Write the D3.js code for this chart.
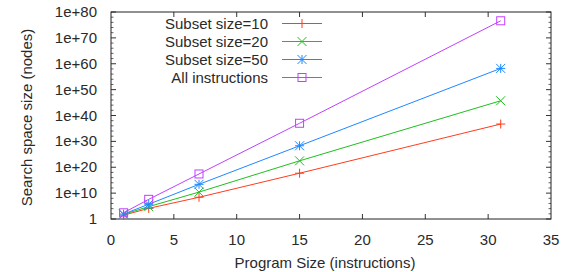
<!DOCTYPE html>
<html>
<head>
<meta charset="utf-8">
<script src="https://cdn.jsdelivr.net/npm/d3@7"></script>
<style>
  body { margin: 0; background: #fff; }
  text { font-family: "Liberation Sans", Arial, sans-serif; font-size: 15px; fill: #2a2a2a; }
</style>
</head>
<body>
<div id="chart"></div>
<script>
// program sizes (instructions)
var sizes = [1, 3, 7, 15, 31];
// search space size per series
var subset10 = [3e1, 1.3e4, 2.5e8, 5e17, 5e36];
var subset20 = [6e1, 6e4, 2.5e10, 3e22, 5e45];
var subset50 = [8e1, 5e5, 2.5e13, 2e28, 1.6e58];
var allInstr = [2.5e2, 4e7, 2.5e17, 1e37, 4e76];
var seriesNames = ["Subset size=10", "Subset size=20", "Subset size=50", "All instructions"];
var xTicks = [0, 5, 10, 15, 20, 25, 30, 35];
var yTicks = [1, 1e10, 1e20, 1e30, 1e40, 1e50, 1e60, 1e70, 1e80];
var yTickLabels = ["1", "1e+10", "1e+20", "1e+30", "1e+40", "1e+50", "1e+60", "1e+70", "1e+80"];

var colors = ["#ff3c1e", "#1ec01e", "#1e88ff", "#c040ff"];
var markers = ["plus", "cross", "star", "square"];
var allSeries = [subset10, subset20, subset50, allInstr];

var W = 563, H = 272;
var margin = { top: 12, right: 12, bottom: 53, left: 111 };
var width = W - margin.left - margin.right,
  height = H - margin.top - margin.bottom;

var svg = d3.select("#chart").append("svg")
  .attr("width", W).attr("height", H);
var g = svg.append("g")
  .attr("transform", "translate(" + margin.left + "," + margin.top + ")");

var x = d3.scaleLinear().domain([0, 35]).range([0, width]);
var y = d3.scaleLog().domain([1, 1e80]).range([height, 0]);

// minor ticks every 1e2 on y
var minorY = d3.range(0, 81, 2).filter(function(e) { return e % 10 != 0; })
  .map(function(e) { return Math.pow(10, e); });

// tick marks, inward on all four sides
var tickCol = "#333";
xTicks.forEach(function(t) {
  if (t == 0 || t == 35) return;
  g.append("line").attr("x1", x(t)).attr("x2", x(t)).attr("y1", height).attr("y2", height - 5)
    .attr("stroke", tickCol);
  g.append("line").attr("x1", x(t)).attr("x2", x(t)).attr("y1", 0).attr("y2", 5)
    .attr("stroke", tickCol);
});
yTicks.forEach(function(t) {
  g.append("line").attr("x1", 0).attr("x2", 5).attr("y1", y(t)).attr("y2", y(t)).attr("stroke", tickCol);
  g.append("line").attr("x1", width).attr("x2", width - 5).attr("y1", y(t)).attr("y2", y(t)).attr("stroke", tickCol);
});
minorY.forEach(function(t) {
  g.append("line").attr("x1", 0).attr("x2", 2.5).attr("y1", y(t)).attr("y2", y(t)).attr("stroke", "#666");
  g.append("line").attr("x1", width).attr("x2", width - 2.5).attr("y1", y(t)).attr("y2", y(t)).attr("stroke", "#666");
});

// frame
g.append("rect").attr("width", width).attr("height", height)
  .attr("fill", "none").attr("stroke", "#222").attr("stroke-width", 1);

// tick labels
g.selectAll(".xl").data(xTicks).enter().append("text")
  .attr("x", function(d) { return x(d); })
  .attr("y", height + 26)
  .attr("text-anchor", "middle")
  .text(function(d) { return d; });
g.selectAll(".yl").data(yTicks).enter().append("text")
  .attr("x", -14)
  .attr("y", function(d) { return y(d) + 5; })
  .attr("text-anchor", "end")
  .text(function(d, i) { return yTickLabels[i]; });

// axis titles
svg.append("text").attr("x", margin.left + width / 2 - 6).attr("y", 268)
  .attr("text-anchor", "middle").text("Program Size (instructions)");
svg.append("text")
  .attr("transform", "translate(32," + (margin.top + height / 2 + 2) + ") rotate(-90)")
  .attr("text-anchor", "middle").text("Search space size (nodes)");

// draw a point marker
function marker(sel, type, cx, cy, col) {
  var s = 4.5;
  if (type == "plus" || type == "star") {
    sel.append("path").attr("d", "M" + (cx - s) + "," + cy + "H" + (cx + s) + "M" + cx + "," + (cy - s) + "V" + (cy + s))
      .attr("stroke", col).attr("fill", "none");
  }
  if (type == "cross" || type == "star") {
    sel.append("path").attr("d", "M" + (cx - s) + "," + (cy - s) + "L" + (cx + s) + "," + (cy + s) + "M" + (cx - s) + "," + (cy + s) + "L" + (cx + s) + "," + (cy - s))
      .attr("stroke", col).attr("fill", "none");
  }
  if (type == "square") {
    sel.append("rect").attr("x", cx - 4).attr("y", cy - 4).attr("width", 8).attr("height", 8)
      .attr("stroke", col).attr("fill", "none");
  }
}

var line = d3.line()
  .x(function(d) { return x(d[0]); })
  .y(function(d) { return y(d[1]); });

allSeries.forEach(function(vals, i) {
  var pts = sizes.map(function(s, j) { return [s, vals[j]]; });
  g.append("path").datum(pts)
    .attr("d", line)
    .attr("fill", "none")
    .attr("stroke", colors[i])
    .attr("stroke-width", 1);
  pts.forEach(function(p) {
    marker(g, markers[i], x(p[0]), y(p[1]), colors[i]);
  });
});

// legend
seriesNames.forEach(function(name, i) {
  var ly = 23.5 + i * 18;
  svg.append("text").attr("x", 268).attr("y", ly + 5)
    .attr("text-anchor", "end").text(name);
  svg.append("line").attr("x1", 282).attr("x2", 322).attr("y1", ly).attr("y2", ly)
    .attr("stroke", colors[i]);
  marker(svg, markers[i], 302, ly, colors[i]);
});
</script>
</body>
</html>
